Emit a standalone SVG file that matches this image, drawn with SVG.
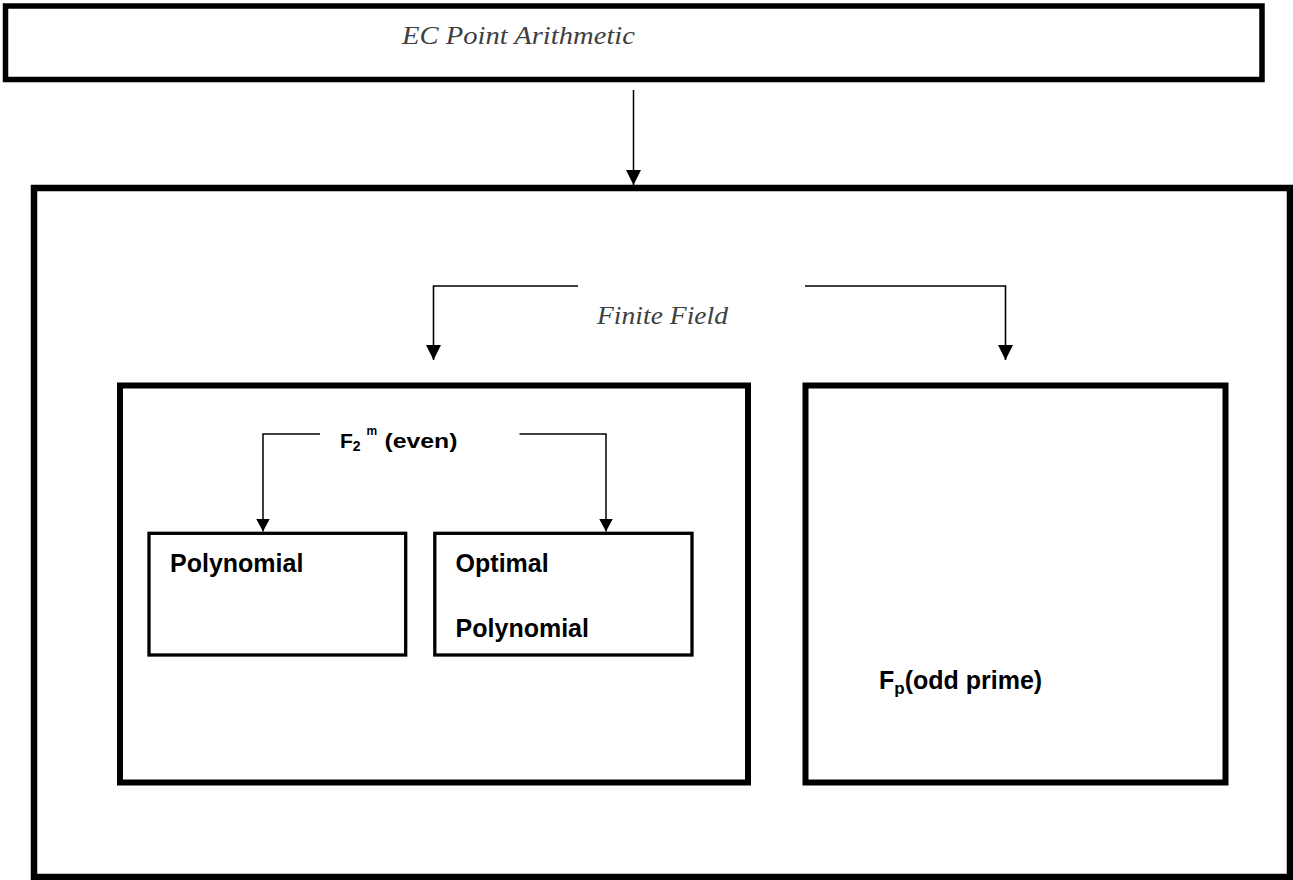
<svg xmlns="http://www.w3.org/2000/svg" width="1293" height="880" viewBox="0 0 1293 880">
  <style>
    .box { fill: #ffffff; stroke: #000000; }
    .thick { stroke-width: 5.5; }
    .big { stroke-width: 6.5; }
    .inner { stroke-width: 6; }
    .small { stroke-width: 3.3; }
    .conn { fill: none; stroke: #000000; stroke-width: 1.6; }
    .conn2 { fill: none; stroke: #000000; stroke-width: 1.5; }
    .ital { font-family: "Liberation Serif", "DejaVu Serif", serif; font-style: italic; fill: #404040; }
    .bold { font-family: "Liberation Sans", Arial, sans-serif; font-weight: bold; fill: #000000; }
  </style>
  <defs>
    <marker id="ah" markerUnits="userSpaceOnUse" viewBox="0 0 15 15" markerWidth="15" markerHeight="15" refX="15" refY="7.5" orient="auto">
      <path d="M0,0 L15,7.5 L0,15 z" fill="#000000"/>
    </marker>
    <marker id="ahs" markerUnits="userSpaceOnUse" viewBox="0 0 13 14" markerWidth="13" markerHeight="14" refX="13" refY="7" orient="auto">
      <path d="M0,0 L13,7 L0,14 z" fill="#000000"/>
    </marker>
  </defs>

  <g id="ec-point-arithmetic">
    <rect class="box thick" x="5.5" y="6" width="1256.5" height="73.5"/>
    <text class="ital" x="402" y="44" font-size="26" textLength="233" lengthAdjust="spacingAndGlyphs">EC Point Arithmetic</text>
  </g>

  <g id="finite-field">
    <rect class="box big" x="34" y="188" width="1256" height="689"/>
    <text class="ital" x="597" y="324" font-size="26" textLength="131" lengthAdjust="spacingAndGlyphs">Finite Field</text>
  </g>

  <g id="f2m-even">
    <rect class="box inner" x="120" y="385.5" width="628" height="397"/>
    <text class="bold" x="340" y="448" font-size="21">F<tspan font-size="14" dy="3">2</tspan><tspan font-size="12" x="366.5" dy="-16">m</tspan><tspan x="384.5" dy="13" textLength="73" lengthAdjust="spacingAndGlyphs">(even)</tspan></text>
  </g>

  <g id="fp-odd-prime">
    <rect class="box inner" x="805.5" y="385.5" width="420" height="397"/>
    <text class="bold" x="879" y="689" font-size="25">F<tspan font-size="17" dy="5">p</tspan><tspan dy="-5">(odd prime)</tspan></text>
  </g>

  <g id="polynomial">
    <rect class="box small" x="149" y="533.3" width="256.7" height="121.7"/>
    <text class="bold" x="170" y="572" font-size="25">Polynomial</text>
  </g>

  <g id="optimal-polynomial">
    <rect class="box small" x="434.8" y="533.3" width="257.2" height="121.7"/>
    <text class="bold" x="455.6" y="572" font-size="25">Optimal</text>
    <text class="bold" x="455.6" y="637" font-size="25">Polynomial</text>
  </g>

  <g id="connectors">
    <line class="conn2" x1="633.5" y1="90" x2="633.5" y2="185" marker-end="url(#ah)"/>
    <polyline class="conn" points="578,286 433.5,286 433.5,360" marker-end="url(#ah)"/>
    <polyline class="conn" points="805,286 1005.5,286 1005.5,360" marker-end="url(#ah)"/>
    <polyline class="conn2" points="320,434 263,434 263,531.5" marker-end="url(#ahs)"/>
    <polyline class="conn2" points="519.5,434 606,434 606,531.5" marker-end="url(#ahs)"/>
  </g>
</svg>
